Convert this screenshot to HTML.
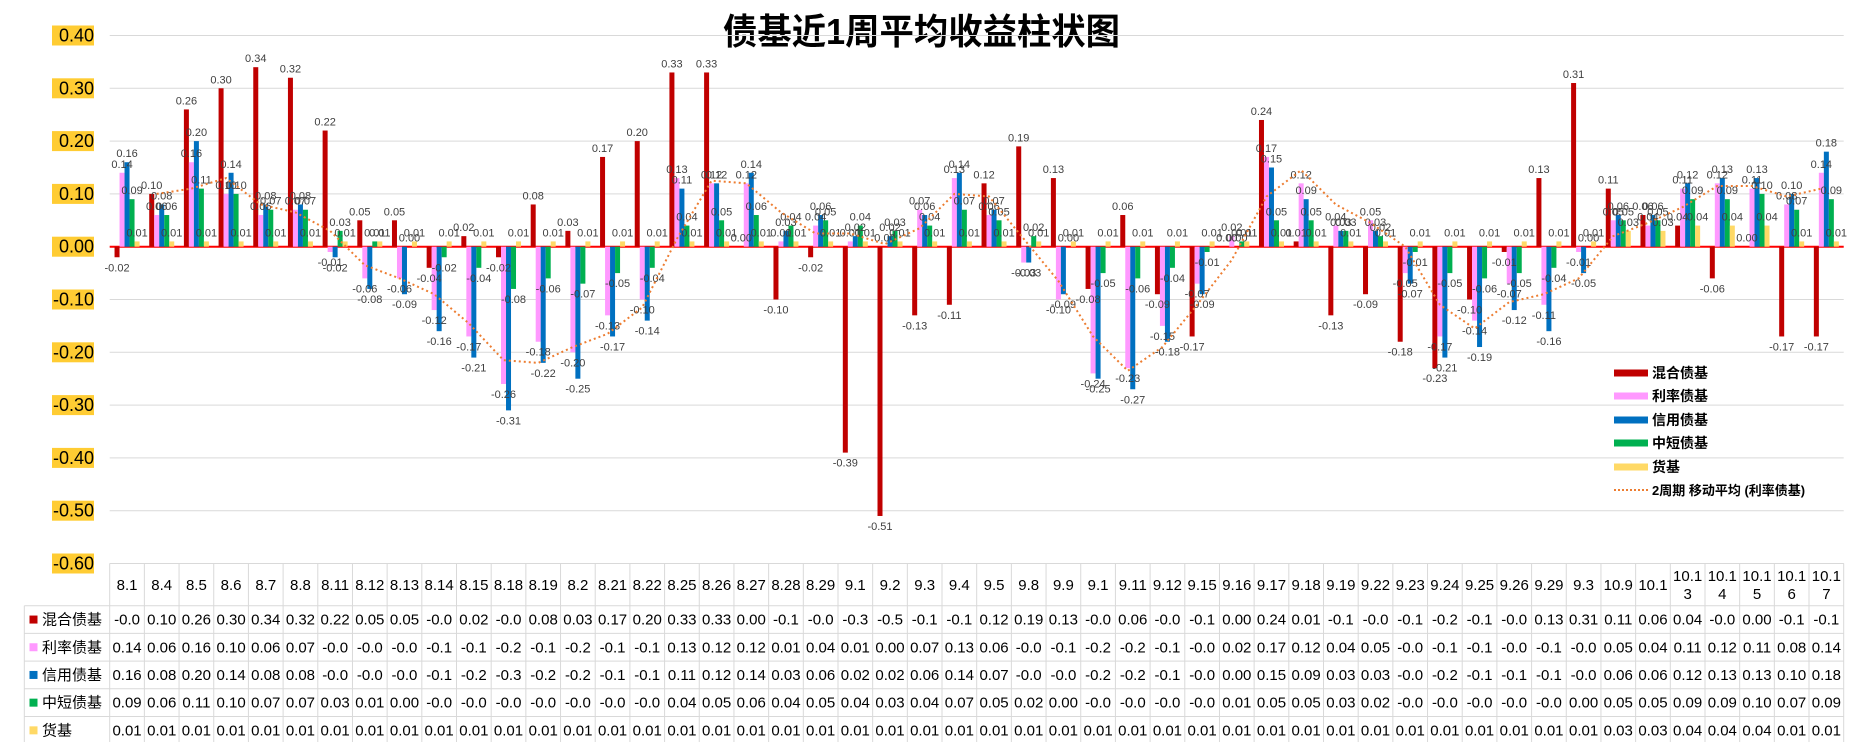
<!DOCTYPE html>
<html><head><meta charset="utf-8"><style>
html,body{margin:0;padding:0;background:#fff;}
svg{display:block;font-family:"Liberation Sans","Noto Sans CJK SC",sans-serif;}
</style></head><body>
<svg id="chart" width="1852" height="742" viewBox="0 0 1852 742" xmlns="http://www.w3.org/2000/svg">
<text x="723" y="44" font-size="36" font-weight="bold" textLength="397" lengthAdjust="spacingAndGlyphs" fill="#000">债基近1周平均收益柱状图</text>
<g id="grid"></g><g id="yaxis"></g><g id="bars"></g><g id="labels"></g><g id="line"></g><g id="table"></g><g id="legend"></g>
</svg>
<script>
const categories=["8.1","8.4","8.5","8.6","8.7","8.8","8.11","8.12","8.13","8.14","8.15","8.18","8.19","8.2","8.21","8.22","8.25","8.26","8.27","8.28","8.29","9.1","9.2","9.3","9.4","9.5","9.8","9.9","9.1","9.11","9.12","9.15","9.16","9.17","9.18","9.19","9.22","9.23","9.24","9.25","9.26","9.29","9.3","10.9","10.1","10.13","10.14","10.15","10.16","10.17"];
const mixed=[-0.02,0.10,0.26,0.30,0.34,0.32,0.22,0.05,0.05,-0.04,0.02,-0.02,0.08,0.03,0.17,0.20,0.33,0.33,0.00,-0.10,-0.02,-0.39,-0.51,-0.13,-0.11,0.12,0.19,0.13,-0.08,0.06,-0.09,-0.17,0.00,0.24,0.01,-0.13,-0.09,-0.18,-0.23,-0.10,-0.01,0.13,0.31,0.11,0.06,0.04,-0.06,0.00,-0.17,-0.17];
const rate=[0.14,0.06,0.16,0.10,0.06,0.07,-0.01,-0.06,-0.06,-0.12,-0.17,-0.26,-0.18,-0.20,-0.13,-0.10,0.13,0.12,0.12,0.01,0.04,0.01,0.00,0.07,0.13,0.06,-0.03,-0.10,-0.24,-0.23,-0.15,-0.07,0.02,0.17,0.12,0.04,0.05,-0.05,-0.17,-0.14,-0.07,-0.11,-0.01,0.05,0.04,0.11,0.12,0.11,0.08,0.14];
const credit=[0.16,0.08,0.20,0.14,0.08,0.08,-0.02,-0.08,-0.09,-0.16,-0.21,-0.31,-0.22,-0.25,-0.17,-0.14,0.11,0.12,0.14,0.03,0.06,0.02,0.02,0.06,0.14,0.07,-0.03,-0.09,-0.25,-0.27,-0.18,-0.09,0.00,0.15,0.09,0.03,0.03,-0.07,-0.21,-0.19,-0.12,-0.16,-0.05,0.06,0.06,0.12,0.13,0.13,0.10,0.18];
const shortTerm=[0.09,0.06,0.11,0.10,0.07,0.07,0.03,0.01,0.00,-0.02,-0.04,-0.08,-0.06,-0.07,-0.05,-0.04,0.04,0.05,0.06,0.04,0.05,0.04,0.03,0.04,0.07,0.05,0.02,0.00,-0.05,-0.06,-0.04,-0.01,0.01,0.05,0.05,0.03,0.02,-0.01,-0.05,-0.06,-0.05,-0.04,0.00,0.05,0.05,0.09,0.09,0.10,0.07,0.09];
const money=[0.01,0.01,0.01,0.01,0.01,0.01,0.01,0.01,0.01,0.01,0.01,0.01,0.01,0.01,0.01,0.01,0.01,0.01,0.01,0.01,0.01,0.01,0.01,0.01,0.01,0.01,0.01,0.01,0.01,0.01,0.01,0.01,0.01,0.01,0.01,0.01,0.01,0.01,0.01,0.01,0.01,0.01,0.01,0.03,0.03,0.04,0.04,0.04,0.01,0.01];
const seriesNames=["混合债基","利率债基","信用债基","中短债基","货基"];
const yTicks=[0.40,0.30,0.20,0.10,0.00,-0.10,-0.20,-0.30,-0.40,-0.50,-0.60];

const NS="http://www.w3.org/2000/svg";
const series=[mixed,rate,credit,shortTerm,money];
const colors=["#C00000","#FF99FF","#0070C0","#00B050","#FFD966"];
const X0=109.7,CW=34.68,Y0=35.5,Y1=563.5,YMAX=0.4,YMIN=-0.6;
function y(v){return Y0+(YMAX-v)/(YMAX-YMIN)*(Y1-Y0);}
function xc(i){return X0+CW*(i+0.5);}
const BW=5.0;
function mk(tag,attrs,parent){const e=document.createElementNS(NS,tag);for(const k in attrs)e.setAttribute(k,attrs[k]);parent.appendChild(e);return e;}
const g=id=>document.getElementById(id);
// grid + y labels
yTicks.forEach(t=>{
  const l=mk('line',{x1:X0,x2:X0+CW*50,y1:y(t),y2:y(t),stroke:'#d9d9d9','stroke-width':1},g('grid'));
  
  
  const r=mk('rect',{x:52,y:y(t)-10,width:42,height:20,fill:'#FFCC33'},g('yaxis'));
  
  
  const tx=mk('text',{x:94,y:y(t)+6,'text-anchor':'end','font-size':18,fill:'#000'},g('yaxis'));
  tx.textContent=t.toFixed(2);
  
  
});
// bars
series.forEach((s,k)=>{
  s.forEach((v,i)=>{
    const bx=xc(i)-2.5*BW+k*BW;
    const top=Math.min(y(v),y(0)),h=Math.abs(y(v)-y(0));
    const b=mk('rect',{x:bx,y:top,width:BW,height:Math.max(h,0.01),fill:colors[k]},g('bars'));
    
    
    const ly=v>=0?y(v)-5:y(v)+14;
    const t=mk('text',{x:bx+BW/2,y:ly,'text-anchor':'middle','font-size':11,fill:'#404040'},g('labels'));
    t.textContent=v.toFixed(2);
    
    
  });
});
// zero line
const z=mk('line',{x1:X0,x2:X0+CW*50,y1:y(0),y2:y(0),stroke:'#FF0000','stroke-width':2},g('grid'));


// moving average
let pts=[];
for(let i=1;i<rate.length;i++){const m=(rate[i]+rate[i-1])/2;pts.push((xc(i)-1.5*BW+BW/2).toFixed(1)+','+y(m).toFixed(1));}
const pl=mk('polyline',{points:pts.join(' '),fill:'none',stroke:'#ED7D31','stroke-width':2,'stroke-dasharray':'2,3'},g('line'));


// table
const TB=g('table');
const hdrTop=563.5,hdrBot=605.7,RH=27.7;
const gridC='#d9d9d9';
mk('line',{x1:X0,x2:X0+CW*50,y1:hdrTop,y2:hdrTop,stroke:gridC},TB);
for(let r=0;r<=5;r++){const yy=hdrBot+r*RH;mk('line',{x1:24.3,x2:X0+CW*50,y1:yy,y2:yy,stroke:gridC},TB);}
mk('line',{x1:24.3,x2:24.3,y1:hdrBot,y2:742,stroke:gridC},TB);
for(let i=0;i<=50;i++){const xx=X0+i*CW;mk('line',{x1:xx,x2:xx,y1:hdrTop,y2:742,stroke:gridC},TB);}
categories.forEach((c,i)=>{
  const h=mk('text',{x:xc(i),'text-anchor':'middle','font-size':15,fill:'#000'},TB);
  
  
  if(c.length>4){
    h.setAttribute('y',581);
    const a=mk('tspan',{x:xc(i)},h);a.textContent=c.slice(0,4);
    const b=mk('tspan',{x:xc(i),dy:18},h);b.textContent=c.slice(4);
  } else {h.setAttribute('y',590);h.textContent=c;}
});
series.forEach((s,k)=>{
  const ry=hdrBot+k*RH;
  const m=mk('rect',{x:29.5,y:ry+RH/2-4,width:8,height:8,fill:colors[k]},TB);
  
  
  const nm=mk('text',{x:42,y:ry+RH/2+5,'font-size':15,fill:'#000'},TB);
  nm.textContent=seriesNames[k];
  
  
  s.forEach((v,i)=>{
    const t=mk('text',{x:xc(i),y:ry+RH/2+5,'text-anchor':'middle','font-size':15,fill:'#000'},TB);
    t.textContent=v.toFixed(2).slice(0,4);
    
    
  });
});
// legend
const LG=g('legend');
const lgY=[373,396,420,443,467];
seriesNames.forEach((n,k)=>{
  const r=mk('rect',{x:1614,y:lgY[k]-3.5,width:34,height:7,fill:colors[k]},LG);
  
  
  const t=mk('text',{x:1652,y:lgY[k]+5,'font-size':14,'font-weight':'bold',fill:'#000'},LG);
  t.textContent=n;
  
  
});
const ll=mk('line',{x1:1614,x2:1648,y1:490,y2:490,stroke:'#ED7D31','stroke-width':2,'stroke-dasharray':'2,2'},LG);


const lt=mk('text',{x:1652,y:495,'font-size':13,'font-weight':'bold',fill:'#000'},LG);
lt.textContent='2周期 移动平均 (利率债基)';


</script>
</body></html>
